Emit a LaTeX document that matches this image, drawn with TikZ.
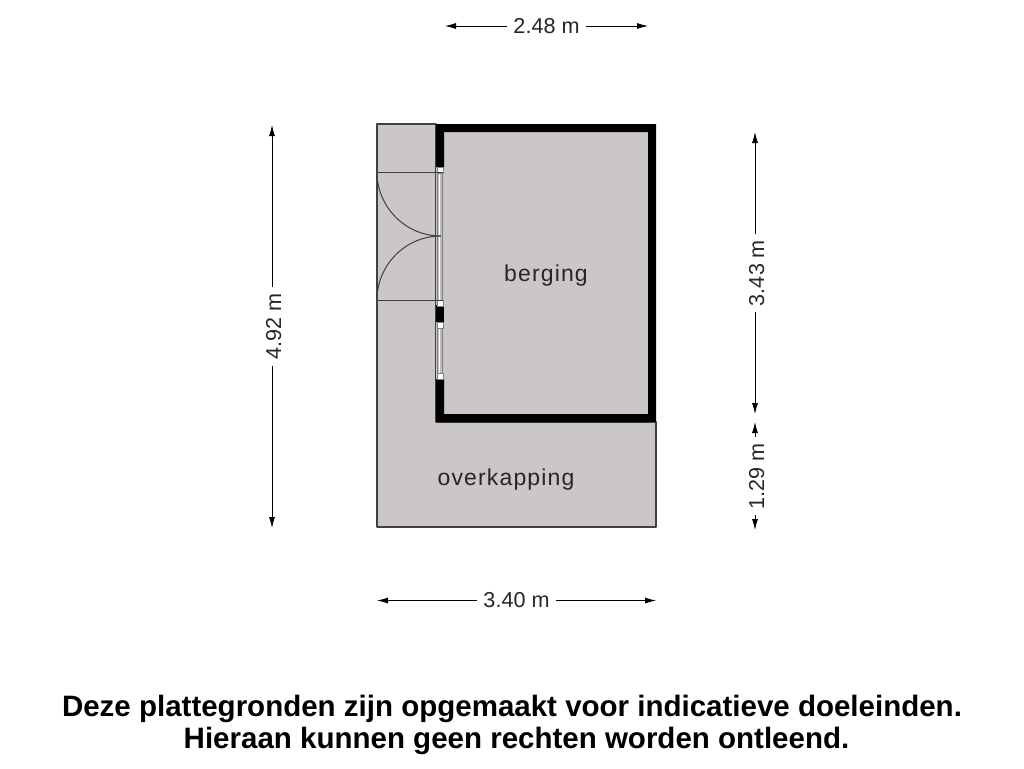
\documentclass[tikz,border=0pt]{standalone}
\usepackage{fontspec}
\setmainfont{Liberation Sans}
\newfontfamily\roomfont[LetterSpace=5]{Liberation Sans}
\usetikzlibrary{arrows.meta,calc}
\definecolor{floorgrey}{rgb}{0.80,0.78,0.78}
\definecolor{windowgrey}{rgb}{0.74,0.74,0.74}
\definecolor{linegrey}{rgb}{0.25,0.25,0.25}
\tikzstyle{floorplan}=[fill=floorgrey, draw=linegrey, line width=1.4pt, line join=round]
\tikzstyle{wall}=[fill=black, draw=none]
\tikzstyle{windowpane}=[fill=windowgrey, draw=gray, line width=0.8pt]
\tikzstyle{windowpost}=[fill=white, draw=gray, line width=0.6pt]
\tikzstyle{doorline}=[draw=linegrey, line width=1pt]
\tikzstyle{dimarrow}=[draw=black, line width=0.8pt, -{Latex[length=11pt,width=6pt]}]
\tikzstyle{dimlabel}=[font=\fontsize{21.6}{26}\selectfont, text=black!85, inner sep=6pt]
\tikzstyle{dimupright}=[rotate=90, text height=18pt, text depth=0pt]
\tikzstyle{roomlabel}=[font=\fontsize{23}{27}\selectfont\roomfont, text=black!85]
\tikzstyle{notelabel}=[font=\fontsize{29.5}{32}\selectfont\bfseries, align=center, text=black]
\newcommand{\dimline}[5]{
	\coordinate (#1a) at (#2);
	\coordinate (#1b) at (#3);
	\node[dimlabel,#5] (#1) at ($(#2)!0.5!(#3)$) {#4};
	\draw[dimarrow] (#1) -- (#1a);
	\draw[dimarrow] (#1) -- (#1b);}
\newcommand{\windowpost}[2]{
	\node[windowpost, minimum width=6pt, minimum height=5.5pt, inner sep=0pt, anchor=north] (#1) at (#2) {};}

\begin{document}
\begin{tikzpicture}[x=1pt,y=-1pt]
	\useasboundingbox (0,0) rectangle (1024,768);

	% floor
	\draw[floorplan] (377,124) -- (436,124) -- (436,422) -- (656,422) -- (656,527) -- (377,527) -- cycle;
	\fill[floorgrey] (436,124) rectangle (656,422);

	% walls
	\fill[wall] (436,124) -- (656,124) -- (656,422) -- (436,422) -- (436,379) -- (444,379) -- (444,414) -- (648,414) -- (648,132) -- (444,132) -- (444,167) -- (436,167) -- cycle;
	\fill[wall] (436,305) rectangle (444,322);

	% windows
	\draw[windowpane] (437.5,172) rectangle (442.5,300);
	\draw[draw=white, line width=0.8pt] (439.5,172) -- (439.5,300);
	\draw[windowpane] (437.5,327) rectangle (442.5,373);
	\draw[draw=white, line width=0.8pt] (439.5,327) -- (439.5,373);
	\windowpost{wa}{440,167}
	\windowpost{wb}{440,300}
	\windowpost{wc}{440,322}
	\windowpost{wd}{440,373}

	% doors
	\draw[doorline] (377,172) -- (443,172);
	\draw[doorline] (377,300) -- (443,300);
	\draw[doorline] (377,172) arc (180:90:64);
	\draw[doorline] (377,300) arc (180:270:64);

	% measures
	\dimline{top}{445,26}{648,26}{2.48 m}{}
	\dimline{bottom}{377,600.5}{656,600.5}{3.40 m}{}
	\dimline{left}{272,125}{272,528}{4.92 m}{dimupright}
	\dimline{upper}{755,132}{755,414}{3.43 m}{dimupright}
	\dimline{lower}{755,422}{755,530}{1.29 m}{dimupright}

	\node[roomlabel] (berging) at (546,276) {berging};
	\node[roomlabel] (overkapping) at (506,480) {overkapping};

	\node[notelabel] (note) at (512,724.5) {Deze plattegronden zijn opgemaakt voor indicatieve doeleinden.\\\hspace{9pt}Hieraan kunnen geen rechten worden ontleend.};
\end{tikzpicture}
\end{document}
